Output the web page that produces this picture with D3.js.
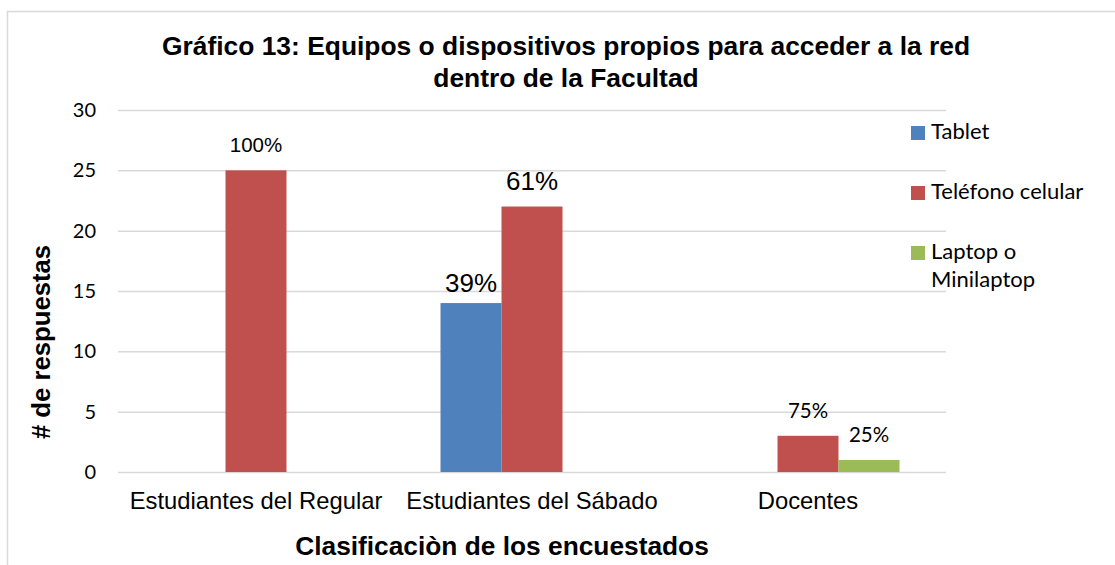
<!DOCTYPE html>
<html>
<head>
<meta charset="utf-8">
<script src="https://cdn.jsdelivr.net/npm/d3@7"></script>
<style>
  body { margin: 0; background: #fff; }
  svg { display: block; }
</style>
</head>
<body>
<div id="chart"></div>
<script>
// data
const categories = ["Estudiantes del Regular", "Estudiantes del Sábado", "Docentes"];
const series = ["Tablet", "Teléfono celular", "Laptop o Minilaptop"];
const tabletValues = [0, 14, 0];
const telefonoValues = [25, 22, 3];
const laptopValues = [0, 0, 1];
const tabletLabels = ["", "39%", ""];
const telefonoLabels = ["100%", "61%", "75%"];
const laptopLabels = ["", "", "25%"];
const yTicks = [0, 5, 10, 15, 20, 25, 30];

const colors = ["#4F81BD", "#C0504D", "#9BBB59"];
const allValues = [tabletValues, telefonoValues, laptopValues];
const allLabels = [tabletLabels, telefonoLabels, laptopLabels];

// look of each data label (they differ in the original)
const arial = "'Liberation Sans', Arial, sans-serif";
const calibriLike = "Lato, 'Open Sans', sans-serif";
const labelStyle = {
  "100%": {size: 20.5, family: arial, gap: 18},
  "61%": {size: 26, family: arial, gap: 17},
  "39%": {size: 26, family: arial, gap: 11},
  "75%": {size: 20.5, family: calibriLike, gap: 18},
  "25%": {size: 20.5, family: calibriLike, gap: 18}
};

const width = 1115, height = 565;
const plot = {left: 118, right: 946, top: 110, bottom: 472};

const svg = d3.select("#chart")
  .append("svg")
  .attr("width", width)
  .attr("height", height);

// chart border (only top and left are visible in the crop)
svg.append("rect")
  .attr("x", 7.5).attr("y", 11.5)
  .attr("width", width).attr("height", height)
  .attr("fill", "#fff")
  .attr("stroke", "#d9d9d9")
  .attr("stroke-width", 1.5);

const x0 = d3.scaleBand()
  .domain(categories)
  .range([plot.left, plot.right])
  .paddingInner(0.337)
  .paddingOuter(0.337 / 2);

const x1 = d3.scaleBand()
  .domain(d3.range(series.length))
  .range([0, x0.bandwidth()]);

const y = d3.scaleLinear()
  .domain([0, 30])
  .range([plot.bottom, plot.top]);

// gridlines
svg.append("g")
  .selectAll("line")
  .data(yTicks)
  .enter()
  .append("line")
    .attr("x1", plot.left)
    .attr("x2", plot.right)
    .attr("y1", d => y(d) + 0.5)
    .attr("y2", d => y(d) + 0.5)
    .attr("stroke", "#d9d9d9")
    .attr("stroke-width", 1.5);

// y axis labels
const yAxis = svg.append("g")
  .attr("transform", `translate(${plot.left}, 0)`)
  .call(d3.axisLeft(y).tickValues(yTicks).tickSize(0).tickPadding(22));
yAxis.select(".domain").remove();
yAxis.selectAll("text")
  .style("font-family", calibriLike)
  .style("font-size", "20px")
  .attr("fill", "#000");

// bars
const rows = [];
categories.forEach((c, i) => {
  series.forEach((s, j) => {
    rows.push({cat: c, s: j, value: allValues[j][i], label: allLabels[j][i]});
  });
});

svg.append("g")
  .selectAll("rect")
  .data(rows.filter(d => d.value > 0))
  .enter()
  .append("rect")
    .attr("x", d => x0(d.cat) + x1(d.s))
    .attr("y", d => y(d.value))
    .attr("width", x1.bandwidth())
    .attr("height", d => y(0) - y(d.value))
    .attr("fill", d => colors[d.s]);

// data labels
svg.append("g")
  .selectAll("text")
  .data(rows.filter(d => d.label))
  .enter()
  .append("text")
    .attr("x", d => x0(d.cat) + x1(d.s) + x1.bandwidth() / 2)
    .attr("y", d => y(d.value) - labelStyle[d.label].gap)
    .attr("text-anchor", "middle")
    .style("font-family", d => labelStyle[d.label].family)
    .style("font-size", d => labelStyle[d.label].size + "px")
    .text(d => d.label);

// category labels
svg.append("g")
  .selectAll("text")
  .data(categories)
  .enter()
  .append("text")
    .attr("x", d => x0(d) + x0.bandwidth() / 2)
    .attr("y", 509)
    .attr("text-anchor", "middle")
    .style("font-family", arial)
    .style("font-size", "23.8px")
    .text(d => d);

// title
const title = svg.append("text")
  .attr("text-anchor", "middle")
  .style("font-family", arial)
  .style("font-size", "26.4px")
  .style("font-weight", "bold");
title.append("tspan").attr("x", 566).attr("y", 55)
  .text("Gráfico 13: Equipos o dispositivos propios para acceder a la red");
title.append("tspan").attr("x", 566).attr("y", 87)
  .text("dentro de la Facultad");

// axis titles
svg.append("text")
  .attr("transform", "translate(50, 342) rotate(-90)")
  .attr("text-anchor", "middle")
  .style("font-family", arial)
  .style("font-size", "25.7px")
  .style("font-weight", "bold")
  .text("# de respuestas");

svg.append("text")
  .attr("x", 502)
  .attr("y", 555)
  .attr("text-anchor", "middle")
  .style("font-family", arial)
  .style("font-size", "26.3px")
  .style("font-weight", "bold")
  .text("Clasificaciòn de los encuestados");

// legend
const legendRows = [["Tablet"], ["Teléfono celular"], ["Laptop o", "Minilaptop"]];
const legend = svg.append("g")
  .selectAll("g")
  .data(series)
  .enter()
  .append("g")
    .attr("transform", (d, i) => `translate(911, ${126 + i * 60})`);

legend.append("rect")
  .attr("width", 14)
  .attr("height", 14)
  .attr("fill", (d, i) => colors[i]);

legend.append("text")
  .style("font-family", calibriLike)
  .style("font-size", "22px")
  .each(function(d, i) {
    d3.select(this).selectAll("tspan")
      .data(legendRows[i])
      .enter()
      .append("tspan")
        .attr("x", 20)
        .attr("y", (t, k) => 13 + k * 28)
        .text(t => t);
  });
</script>
</body>
</html>
